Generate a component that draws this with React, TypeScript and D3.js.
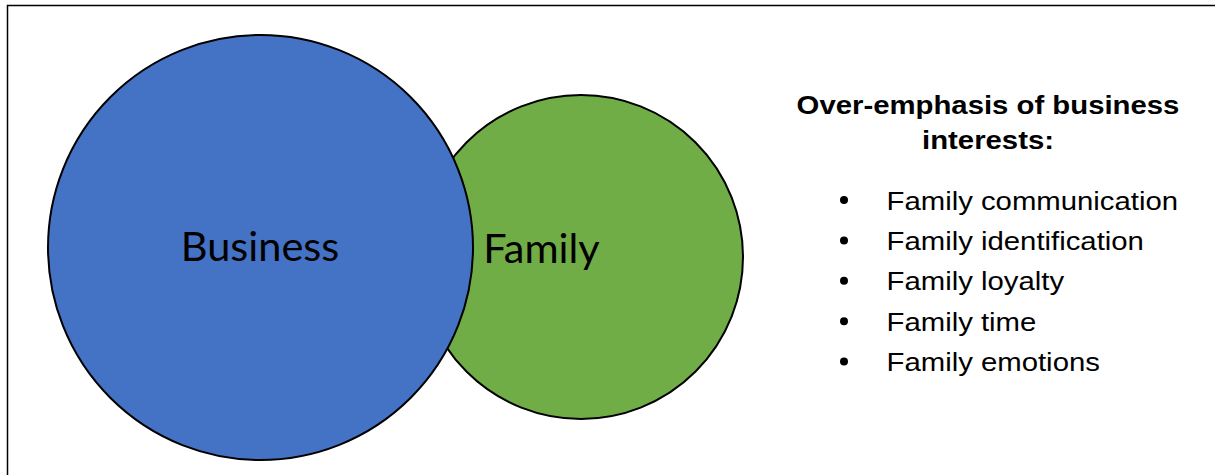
import React from "react";
import * as d3 from "d3";

const W = 1215;
const H = 475;

const sets = [
  { name: "Family", cx: 581, cy: 257, r: 162, color: "#70AD47", lx: 541.5, ly: 263 },
  { name: "Business", cx: 260.5, cy: 247.5, r: 212.5, color: "#4472C4", lx: 260, ly: 261 },
];

const titleLines = ["Over-emphasis of business", "interests:"];
const bullets = [
  "Family communication",
  "Family identification",
  "Family loyalty",
  "Family time",
  "Family emotions",
];

const SX = 1.15;

export default function App() {
  const yBul = d3.scalePoint<string>().domain(bullets).range([209.5, 371]);
  const yTitle = d3.scalePoint<string>().domain(titleLines).range([114, 148.5]);
  return (
    <svg
      width={W}
      height={H}
      style={{ position: "absolute", left: 0, top: 0, background: "#fff" }}
    >
      <rect x={7.5} y={5.5} width={W + 20} height={H + 20} fill="none" stroke="#000" strokeWidth={1.5} />
      {sets.map((s) => (
        <circle key={s.name} cx={s.cx} cy={s.cy} r={s.r} fill={s.color} stroke="#000" strokeWidth={2} />
      ))}
      {sets.map((s) => (
        <text
          key={s.name + "l"}
          x={s.lx}
          y={s.ly}
          textAnchor="middle"
          fontFamily="Lato, 'Open Sans', sans-serif"
          fontSize={41.5}
          fill="#000"
        >
          {s.name}
        </text>
      ))}
      {titleLines.map((t) => (
        <text
          key={t}
          transform={`translate(988,${yTitle(t)}) scale(${SX},1)`}
          textAnchor="middle"
          fontFamily="'Liberation Sans', Arial, sans-serif"
          fontWeight="bold"
          fontSize={25.5}
          fill="#000"
        >
          {t}
        </text>
      ))}
      {bullets.map((b) => (
        <g key={b}>
          <circle cx={844} cy={(yBul(b) as number) - 9.5} r={4} fill="#000" />
          <text
            transform={`translate(886.5,${yBul(b)}) scale(${SX},1)`}
            fontFamily="'Liberation Sans', Arial, sans-serif"
            fontSize={25.5}
            fill="#000"
          >
            {b}
          </text>
        </g>
      ))}
    </svg>
  );
}
